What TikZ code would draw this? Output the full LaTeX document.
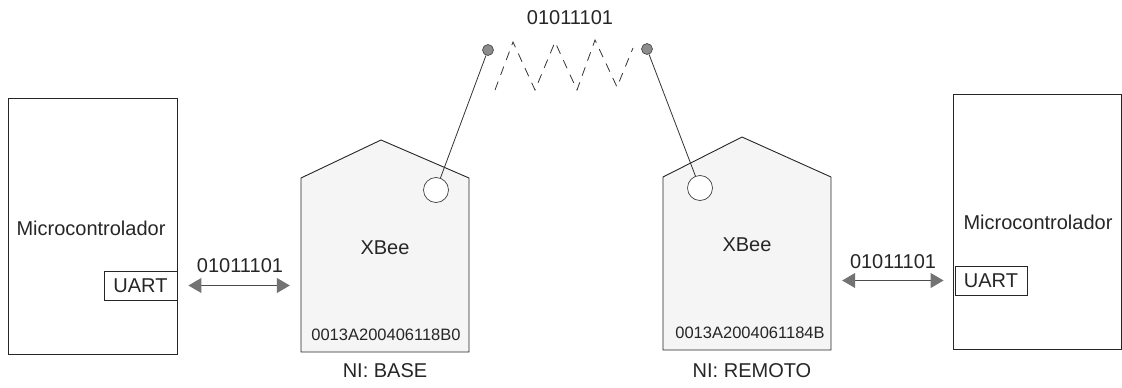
\documentclass[tikz,border=0pt]{standalone}
\usepackage{fontspec}
\setmainfont{Liberation Sans}
\usetikzlibrary{arrows.meta}
\begin{document}
\begin{tikzpicture}[x=1pt,y=-1pt,
  txt/.style={font=\fontsize{20}{24}\selectfont, text=black!85, inner sep=0pt},
  addr/.style={font=\fontsize{16.5}{20}\selectfont, text=black!85, inner sep=0pt},
  box/.style={draw=black!85, line width=0.9pt, inner sep=0pt},
  xbeebody/.style={draw=black!85, line width=0.9pt, fill=black!4, line join=miter},
  region/.style={inner sep=0pt, draw=none},
  biarrow/.style={draw=black!70, line width=1pt,
    {Triangle[length=13pt,width=15pt,color=black!55,fill=black!55]}-{Triangle[length=13pt,width=15pt,color=black!55,fill=black!55]}},
  antcirc/.style={circle, draw=black!75, line width=0.7pt, fill=white, minimum size=25pt, inner sep=0pt},
  antdot/.style={circle, draw=black!75, line width=0.6pt, fill=black!45, minimum size=11pt, inner sep=0pt},
  antline/.style={draw=black!80, line width=0.8pt},
  wave/.style={draw=black!80, line width=0.8pt, dash pattern=on 9pt off 7pt}
]
\useasboundingbox (0,0) rectangle (1122,388);

% left microcontroller
\node[box, minimum width=169pt, minimum height=256pt] (mcuL) at (92.5,226) {};
\node[txt] (mcuLt) at (91,228) {Microcontrolador};
\node[box, minimum width=73pt, minimum height=29pt] (uartL) at (140.5,285.5) {};
\node[txt] (uartLt) at (140.5,285.5) {UART};

% left XBee
\draw[xbeebody] (301,352) -- (301,178) -- (381,140) -- (469,178) -- (469,352) -- cycle;
\node[region, minimum width=168pt, minimum height=174pt] (xbL) at (385,265) {};
\node[txt] (xbLt) at (385,248) {XBee};
\node[addr] (addrL) at (386,335) {0013A200406118B0};
\node[txt] (niL) at (385,371) {NI: BASE};
\node[antcirc] (circL) at (436,190) {};
\node[antdot] (dotL) at (488,50) {};
\draw[antline] (dotL) -- (circL);

% right XBee
\draw[xbeebody] (663,350) -- (663,177) -- (742,137) -- (831,177) -- (831,350) -- cycle;
\node[region, minimum width=168pt, minimum height=173pt] (xbR) at (747,263.5) {};
\node[txt] (xbRt) at (747,245) {XBee};
\node[addr] (addrR) at (750,333) {0013A2004061184B};
\node[txt] (niR) at (752,371) {NI: REMOTO};
\node[antcirc] (circR) at (700,188) {};
\node[antdot] (dotR) at (647,49) {};
\draw[antline] (dotR) -- (circR);

% right microcontroller
\node[box, minimum width=168pt, minimum height=255pt] (mcuR) at (1037,221.5) {};
\node[txt] (mcuRt) at (1038,222) {Microcontrolador};
\node[box, minimum width=72pt, minimum height=29pt] (uartR) at (991,280.5) {};
\node[txt] (uartRt) at (991,280.5) {UART};

% serial links
\draw[biarrow] ([xshift=11pt]uartL.east) -- ([xshift=-11pt]uartL.east -| xbL.west);
\node[txt] (bitsL) at (240,266) {01011101};
\draw[biarrow] ([xshift=11pt]uartR.west -| xbR.east) -- ([xshift=-11pt]uartR.west);
\node[txt] (bitsR) at (893,262) {01011101};

% radio link
\node[txt] (bitsT) at (570,18) {01011101};
\draw[wave] (495,90) -- (513,42) -- (535,90) -- (555,42) -- (577,90) -- (595,40) -- (617,87) -- (633,48);
\end{tikzpicture}
\end{document}
